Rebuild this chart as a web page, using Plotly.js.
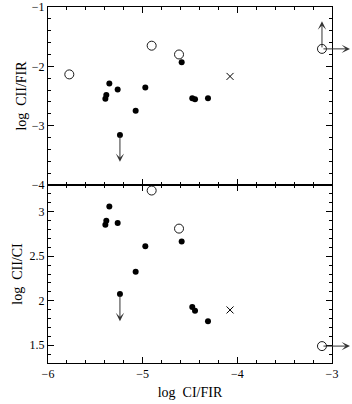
<!DOCTYPE html>
<html>
<head>
<meta charset="utf-8">
<script src="https://cdn.plot.ly/plotly-3.0.1.min.js"></script>
<style>html,body{margin:0;padding:0;background:#fff;}#plot{width:352px;height:404px;}</style>
</head>
<body>
<div id="plot"></div>
<script>
// Data
var filledCIFIR   = [-5.352, -5.264, -5.384, -5.394, -4.972, -5.074, -5.240, -4.588, -4.476, -4.447, -4.310];
var filledCIIFIR  = [-2.288, -2.389, -2.484, -2.546, -2.355, -2.748, -3.156, -1.930, -2.540, -2.556, -2.540];
var filledCIICI   = [3.059, 2.873, 2.899, 2.854, 2.612, 2.325, 2.075, 2.664, 1.930, 1.888, 1.770];

var openCIFIR     = [-5.775, -4.905, -4.616, -3.106];
var openCIIFIR    = [-2.136, -1.652, -1.800, -1.706];
var openCIICIx    = [-4.905, -4.616, -3.106];
var openCIICI     = [3.238, 2.810, 1.490];

var crossCIFIR    = [-4.077];
var crossCIIFIR   = [-2.170];
var crossCIICI    = [1.896];

// limit arrows: start point, tip, panel
var limitX     = [-5.240, -3.106, -3.106, -5.240, -3.106];
var limitY     = [-3.156, -1.706, -1.706, 2.075, 1.490];
var limitTipX  = [-5.240, -3.106, -2.810, -5.240, -2.810];
var limitTipY  = [-3.610, -1.240, -1.706, 1.770, 1.490];
var limitPanel = [1, 1, 1, 2, 2];

var xTickVals = [-6, -5, -4, -3];
var xTickText = ['\u22126', '\u22125', '\u22124', '\u22123'];
var y1TickVals = [-4, -3, -2, -1];
var y1TickText = ['\u22124', '\u22123', '\u22122', '\u22121'];
var y2TickVals = [1.5, 2, 2.5, 3];
var y2TickText = ['1.5', '2', '2.5', '3'];

var font = 'Liberation Serif, Times New Roman, serif';

var traces = [
  {x: filledCIFIR, y: filledCIIFIR, xaxis: 'x2', yaxis: 'y', mode: 'markers', type: 'scatter',
   marker: {symbol: 'circle', size: 6, color: '#000'}},
  {x: openCIFIR, y: openCIIFIR, xaxis: 'x2', yaxis: 'y', mode: 'markers', type: 'scatter',
   marker: {symbol: 'circle-open', size: 9, color: '#000', line: {width: 0.9}}},
  {x: crossCIFIR, y: crossCIIFIR, xaxis: 'x2', yaxis: 'y', mode: 'markers', type: 'scatter',
   marker: {symbol: 'x-thin-open', size: 7, color: '#000', line: {width: 1}}},
  {x: filledCIFIR, y: filledCIICI, xaxis: 'x', yaxis: 'y2', mode: 'markers', type: 'scatter',
   marker: {symbol: 'circle', size: 6, color: '#000'}},
  {x: openCIICIx, y: openCIICI, xaxis: 'x', yaxis: 'y2', mode: 'markers', type: 'scatter',
   marker: {symbol: 'circle-open', size: 9, color: '#000', line: {width: 0.9}}, cliponaxis: false},
  {x: crossCIFIR, y: crossCIICI, xaxis: 'x', yaxis: 'y2', mode: 'markers', type: 'scatter',
   marker: {symbol: 'x-thin-open', size: 7, color: '#000', line: {width: 1}}}
];

var annotations = [];
for (var i = 0; i < limitX.length; i++) {
  var isTop = limitPanel[i] === 1;
  annotations.push({
    x: limitTipX[i], y: limitTipY[i], ax: limitX[i], ay: limitY[i],
    xref: isTop ? 'x2' : 'x', yref: isTop ? 'y' : 'y2',
    axref: isTop ? 'x2' : 'x', ayref: isTop ? 'y' : 'y2',
    text: '', showarrow: true, arrowhead: 3, arrowsize: 1.4, arrowwidth: 1,
    arrowcolor: '#333', standoff: 0, startstandoff: 0
  });
}

function baseAxis(extra, minorStep, minorStart) {
  var a = {
    ticks: 'inside', ticklen: 6, tickwidth: 1, tickcolor: '#000',
    showline: true, linecolor: '#000', linewidth: 1, mirror: 'allticks',
    showgrid: false, zeroline: false, ticklabeloverflow: 'allow',
    tickfont: {family: font, size: 12, color: '#000'},
    minor: {ticks: 'inside', ticklen: 3, tickwidth: 1, tickcolor: '#000',
            tick0: minorStart, dtick: minorStep, showgrid: false}
  };
  return Object.assign(a, extra);
}

var xRange = [-6, -3];
var y1Range = [-4, -1];
var y2Range = [1.3, 3.3];

var layout = {
  width: 352, height: 404,
  margin: {l: 48, r: 20, t: 7, b: 41},
  paper_bgcolor: '#fff', plot_bgcolor: 'rgba(0,0,0,0)',
  showlegend: false,
  font: {family: font, color: '#000'},
  xaxis: baseAxis({anchor: 'y2', domain: [0, 1], range: xRange,
    tickmode: 'array', tickvals: xTickVals, ticktext: xTickText,
    title: {text: 'log  CI/FIR', font: {family: font, size: 14}, standoff: 6}}, 0.2, -6),
  xaxis2: baseAxis({anchor: 'y', domain: [0, 1], range: xRange,
    tickmode: 'array', tickvals: xTickVals, showticklabels: false}, 0.2, -6),
  yaxis: baseAxis({anchor: 'x2', domain: [0.5, 1], range: y1Range,
    tickmode: 'array', tickvals: y1TickVals, ticktext: y1TickText,
    title: {text: 'log  CII/FIR', font: {family: font, size: 14}, standoff: 1}}, 0.2, -4),
  yaxis2: baseAxis({anchor: 'x', domain: [0, 0.5], range: y2Range,
    tickmode: 'array', tickvals: y2TickVals, ticktext: y2TickText,
    title: {text: 'log  CII/CI', font: {family: font, size: 14}, standoff: 3}}, 0.1, 1.3),
  annotations: annotations
};

Plotly.newPlot('plot', traces, layout, {displayModeBar: false, staticPlot: true});
</script>
</body>
</html>
